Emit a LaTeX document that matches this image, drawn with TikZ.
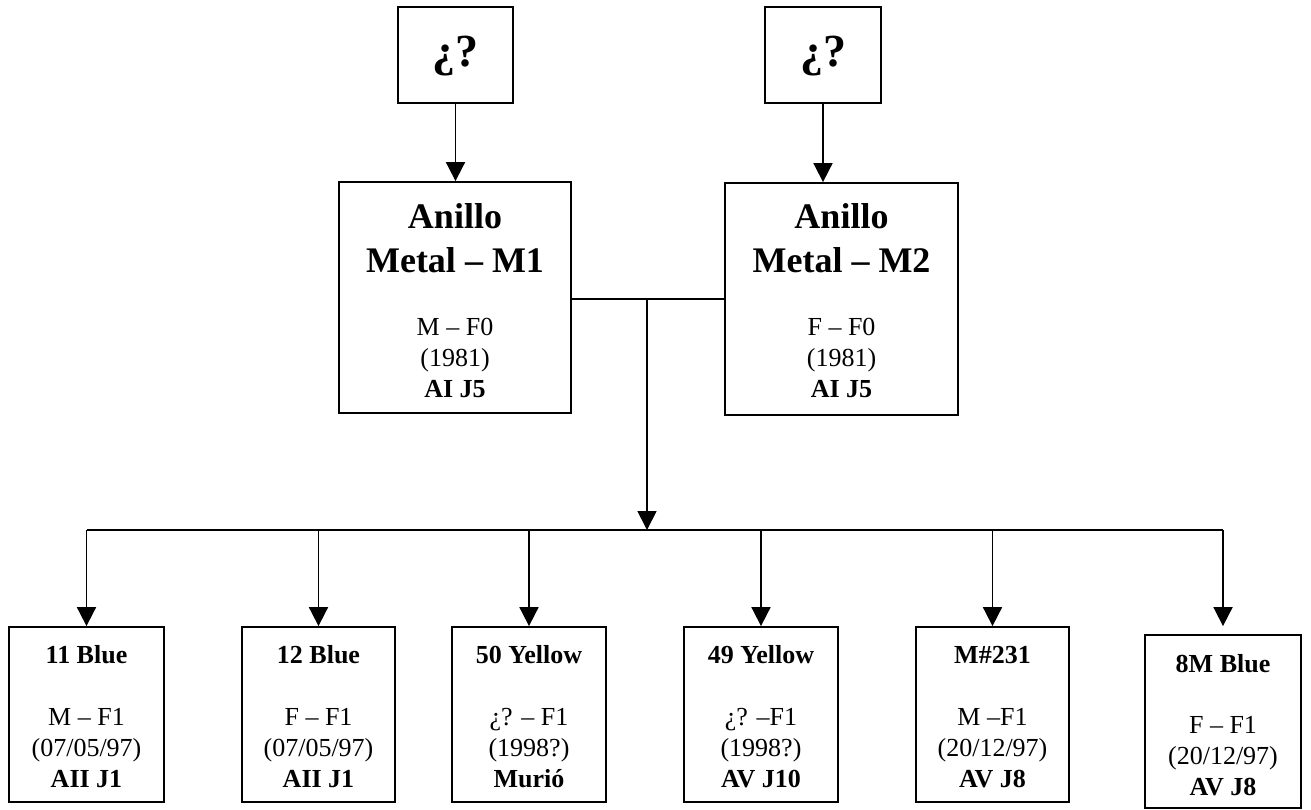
\documentclass[tikz,border=0pt]{standalone}
\usepackage{fontspec}
\setmainfont{Liberation Serif}
\usetikzlibrary{arrows.meta}
\tikzset{
  famrect/.style={draw, line width=1.8pt, inner sep=0pt, fill=white},
  conn/.style={line width=1.8pt},
  arr/.style={conn, -{Triangle[length=19pt,width=19pt]}},
  tl/.style={anchor=base, inner sep=0pt},
  qfont/.style={font=\fontsize{46}{50}\selectfont\bfseries},
  big/.style={font=\fontsize{36}{40}\selectfont\bfseries},
  med/.style={font=\fontsize{26}{30}\selectfont},
  medb/.style={font=\fontsize{26}{30}\selectfont\bfseries},
}
\begin{document}
\begin{tikzpicture}[x=1pt,y=-1pt]
\useasboundingbox (0,0) rectangle (1311,809);
% boxes
\node[famrect, minimum width=115pt, minimum height=96pt] (q1) at (455.5,55) {};
\node[famrect, minimum width=116pt, minimum height=96pt] (q2) at (823,55) {};
\node[famrect, minimum width=232pt, minimum height=231pt] (a1) at (455,297.5) {};
\node[famrect, minimum width=233pt, minimum height=232pt] (a2) at (841.5,299) {};
\node[famrect, minimum width=155pt, minimum height=175pt] (b1) at (86.5,714.5) {};
\node[famrect, minimum width=153pt, minimum height=175pt] (b2) at (318.5,714.5) {};
\node[famrect, minimum width=154pt, minimum height=175pt] (b3) at (529,714.5) {};
\node[famrect, minimum width=154pt, minimum height=175pt] (b4) at (761,714.5) {};
\node[famrect, minimum width=153pt, minimum height=175pt] (b5) at (992.5,714.5) {};
\node[famrect, minimum width=156pt, minimum height=173pt] (b6) at (1223,721.5) {};
% connectors
\coordinate (j) at (647,299);
\coordinate (bus) at (647,530);
\draw[arr] (q1) -- (q1.south |- a1.north);
\draw[arr] (q2) -- (q2.south |- a2.north);
\draw[conn] (a1.east |- j) -- (a2.west |- j);
\draw[arr] (j) -- (bus);
\draw[conn] (b1.north |- bus) -- (b6.north |- bus);
\draw[arr] (b1.north |- bus) -- (b1.north);
\draw[arr] (b2.north |- bus) -- (b2.north);
\draw[arr] (b3.north |- bus) -- (b3.north);
\draw[arr] (b4.north |- bus) -- (b4.north);
\draw[arr] (b5.north |- bus) -- (b5.north);
\draw[arr, shorten >=8pt] (b6.north |- bus) -- (b6.north);
% texts
\node[tl, qfont] (q1t) at (q1.center |- 0,66) {¿?};
\node[tl, qfont] (q2t) at (q2.center |- 0,66) {¿?};
\node[tl, big] (a1t1) at (a1.center |- 0,228) {Anillo};
\node[tl, big] (a1t2) at (a1.center |- 0,272) {Metal – M1};
\node[tl, med] (a1t3) at (a1.center |- 0,335) {M – F0};
\node[tl, med] (a1t4) at (a1.center |- 0,366) {(1981)};
\node[tl, medb] (a1t5) at (a1.center |- 0,397) {AI J5};
\node[tl, big] (a2t1) at (a2.center |- 0,228) {Anillo};
\node[tl, big] (a2t2) at (a2.center |- 0,272) {Metal – M2};
\node[tl, med] (a2t3) at (a2.center |- 0,335) {F – F0};
\node[tl, med] (a2t4) at (a2.center |- 0,366) {(1981)};
\node[tl, medb] (a2t5) at (a2.center |- 0,397) {AI J5};
%
\node[tl, medb] (b1t1) at (b1.center |- 0,663) {11 Blue};
\node[tl, med] (b1t2) at (b1.center |- 0,725) {M – F1};
\node[tl, med] (b1t3) at (b1.center |- 0,756) {(07/05/97)};
\node[tl, medb] (b1t4) at (b1.center |- 0,787) {AII J1};
\node[tl, medb] (b2t1) at (b2.center |- 0,663) {12 Blue};
\node[tl, med] (b2t2) at (b2.center |- 0,725) {F – F1};
\node[tl, med] (b2t3) at (b2.center |- 0,756) {(07/05/97)};
\node[tl, medb] (b2t4) at (b2.center |- 0,787) {AII J1};
\node[tl, medb] (b3t1) at (b3.center |- 0,663) {50 Yellow};
\node[tl, med] (b3t2) at (b3.center |- 0,725) {¿? – F1};
\node[tl, med] (b3t3) at (b3.center |- 0,756) {(1998?)};
\node[tl, medb] (b3t4) at (b3.center |- 0,787) {Murió};
\node[tl, medb] (b4t1) at (b4.center |- 0,663) {49 Yellow};
\node[tl, med] (b4t2) at (b4.center |- 0,725) {¿? –F1};
\node[tl, med] (b4t3) at (b4.center |- 0,756) {(1998?)};
\node[tl, medb] (b4t4) at (b4.center |- 0,787) {AV J10};
\node[tl, medb] (b5t1) at (b5.center |- 0,663) {M\#231};
\node[tl, med] (b5t2) at (b5.center |- 0,725) {M –F1};
\node[tl, med] (b5t3) at (b5.center |- 0,756) {(20/12/97)};
\node[tl, medb] (b5t4) at (b5.center |- 0,787) {AV J8};
\node[tl, medb] (b6t1) at (b6.center |- 0,672) {8M Blue};
\node[tl, med] (b6t2) at (b6.center |- 0,733) {F – F1};
\node[tl, med] (b6t3) at (b6.center |- 0,764) {(20/12/97)};
\node[tl, medb] (b6t4) at (b6.center |- 0,795) {AV J8};
\end{tikzpicture}
\end{document}
